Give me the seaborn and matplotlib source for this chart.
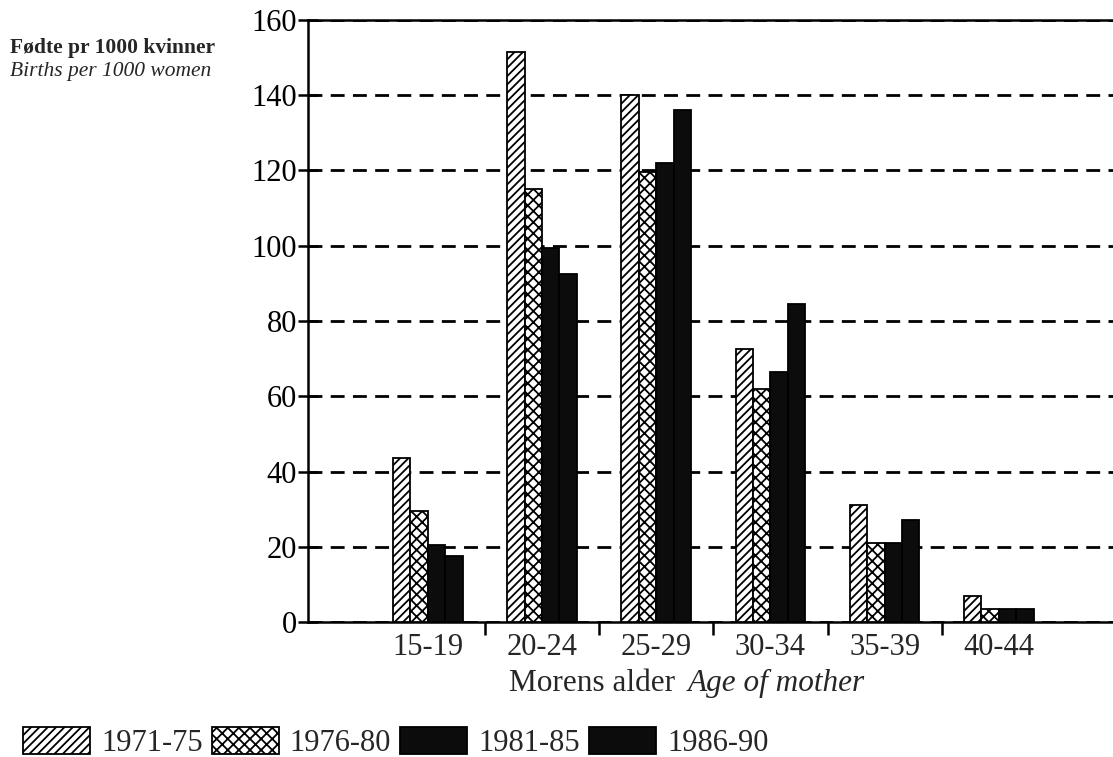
import matplotlib
matplotlib.use("Agg")
import matplotlib.pyplot as plt
import pandas as pd
import seaborn as sns
from matplotlib.patches import Patch

# Births per 1000 women, by age of mother and period
AGE_GROUPS = ["15-19", "20-24", "25-29", "30-34", "35-39", "40-44"]
PERIODS = ["1971-75", "1976-80", "1981-85", "1986-90"]
RATE_1971_75 = [43.5, 151.5, 140, 72.5, 31, 7]
RATE_1976_80 = [29.5, 115, 119.5, 62, 21, 3.5]
RATE_1981_85 = [20.5, 99.5, 122, 66.5, 21, 3.5]
RATE_1986_90 = [17.5, 92.5, 136, 84.5, 27, 3.5]
Y_TICKS = [0, 20, 40, 60, 80, 100, 120, 140, 160]

# hatch / fill per period
HATCH = {"1971-75": "////", "1976-80": "xxx", "1981-85": "", "1986-90": ""}
FILL = {"1971-75": "white", "1976-80": "white", "1981-85": "#0c0c0c", "1986-90": "#0c0c0c"}

sns.set_style("white")
plt.rcParams["font.family"] = ["Liberation Serif", "DejaVu Serif"]
plt.rcParams["hatch.linewidth"] = 1.3
plt.rcParams["hatch.color"] = "black"

rows = []
for period, vals in zip(PERIODS, [RATE_1971_75, RATE_1976_80, RATE_1981_85, RATE_1986_90]):
    for age, v in zip(AGE_GROUPS, vals):
        rows.append({"age": age, "period": period, "rate": v})
df = pd.DataFrame(rows)

fig = plt.figure(figsize=(11.13, 7.57), dpi=100)
ax = fig.add_axes([0.2767, 0.1783, 0.7233, 0.7953])

sns.barplot(data=df, x="age", y="rate", hue="period", order=AGE_GROUPS, hue_order=PERIODS,
            width=0.61, gap=0, palette=["white"] * 4, edgecolor="black", linewidth=1.3,
            legend=False, ax=ax)

for period, cont in zip(PERIODS, ax.containers):
    for bar in cont:
        bar.set_facecolor(FILL[period])
        bar.set_hatch(HATCH[period])
        bar.set_edgecolor("black")
        bar.set_zorder(3)

ax.set_xlim(-1.05, 6.0)
ax.set_ylim(0, 160)
ax.set_yticks(Y_TICKS)
ax.set_yticklabels([str(t) for t in Y_TICKS], fontsize=22)
ax.tick_params(axis="y", left=True, direction="inout", length=14, width=1.8, pad=1, colors="black")

ax.set_xticks(range(len(AGE_GROUPS)))
ax.set_xticklabels(AGE_GROUPS, fontsize=22)
ax.tick_params(axis="x", which="major", bottom=False, length=0, pad=8)
# tick marks between groups
ax.set_xticks([i + 0.5 for i in range(len(AGE_GROUPS) - 1)], minor=True)
ax.tick_params(axis="x", which="minor", bottom=True, direction="out", length=9, width=1.8,
               colors="black")

ax.yaxis.grid(True, color="black", linestyle=(0, (5, 3)), linewidth=2.0)
ax.xaxis.grid(False)
ax.set_axisbelow(True)
for side in ["left", "bottom", "top"]:
    ax.spines[side].set_visible(True)
    ax.spines[side].set_linewidth(1.8)
    ax.spines[side].set_color("black")
ax.spines["right"].set_visible(False)

ax.set_xlabel("")
ax.set_ylabel("")

fig.text(0.6065, 0.097, "Morens alder", fontsize=22.5, ha="right", va="center")
fig.text(0.618, 0.097, "Age of mother", fontsize=22.5, style="italic", ha="left", va="center")

fig.text(0.009, 0.937, "Fødte pr 1000 kvinner", fontsize=15.5, weight="bold", ha="left", va="center")
fig.text(0.009, 0.905, "Births per 1000 women", fontsize=15.5, style="italic", ha="left", va="center")

handles = [Patch(facecolor=FILL[p], edgecolor="black", hatch=HATCH[p], linewidth=1.3) for p in PERIODS]
fig.legend(handles, PERIODS, loc="lower left", bbox_to_anchor=(0.018, -0.005), ncol=4,
           frameon=False, fontsize=22, handlelength=2.2, handleheight=1.0,
           handletextpad=0.35, columnspacing=0.3, borderpad=0.1, borderaxespad=0)

fig.savefig("out.png", dpi=100)
